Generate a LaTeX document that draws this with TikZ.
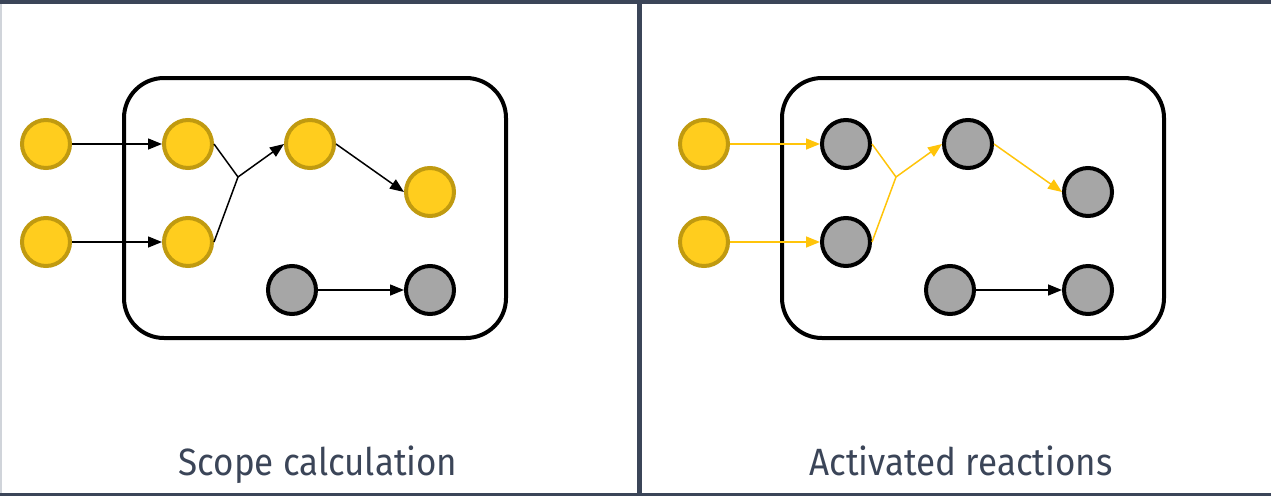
\documentclass[tikz,border=0pt]{standalone}
\usepackage{fontspec}
\setmainfont{Fira Sans}
\newfontfamily\capfont{Fira Sans}[FakeStretch=0.92]
\usetikzlibrary{arrows.meta}
\definecolor{slate}{RGB}{59,69,88}
\definecolor{edgegray}{RGB}{208,212,218}
\definecolor{gold}{RGB}{255,205,30}
\definecolor{goldrim}{RGB}{192,154,16}
\definecolor{flow}{RGB}{255,196,10}
\definecolor{inert}{RGB}{166,166,166}

\begin{document}
\begin{tikzpicture}[x=1pt,y=-1pt,
    met/.style={circle,draw=goldrim,fill=gold,line width=4pt,minimum size=48pt,inner sep=0pt},
    off/.style={circle,draw=black,fill=inert,line width=4pt,minimum size=48pt,inner sep=0pt},
    rxn/.style={line width=1.5pt,-{Triangle[length=14pt,width=11pt]}},
    leg/.style={line width=1.5pt},
    cell/.style={draw=black,line width=4pt,rounded corners=40pt},
    caption/.style={text=slate,anchor=base,inner sep=0pt,font=\capfont\fontsize{38}{44}\selectfont}]
    \useasboundingbox (0,0) rectangle (1271,496);
    % frame
    \fill[edgegray] (0,0) rectangle (1.5,496);
    \fill[slate] (0,0) rectangle (1271,3.5);
    \fill[slate] (0,492.5) rectangle (1271,496);
    \fill[slate] (637,0) rectangle (642,496);
    % scope calculation
    \draw[cell] (124,78) rectangle (506,338);
    \node (in1) at (46,144) [met] {};
    \node (in2) at (46,242) [met] {};
    \node (a1) at (188,144) [met] {};
    \node (a2) at (188,242) [met] {};
    \node (b) at (310,144) [met] {};
    \node (c) at (430,192) [met] {};
    \node (d) at (292,290) [off] {};
    \node (e) at (430,290) [off] {};
    \coordinate (j) at (238,177);
    \draw[rxn] (in1.east) -- (a1.west);
    \draw[rxn] (in2.east) -- (a2.west);
    \draw[leg] (a1.east) -- (j);
    \draw[leg] (a2.east) -- (j);
    \draw[rxn] (j) -- (b.west);
    \draw[rxn] (b.east) -- (c.west);
    \draw[rxn] (d.east) -- (e.west);
    \node (cap1) at (318,475) [caption] {Scope calculation};
    % activated reactions
    \draw[cell] (782,78) rectangle (1164,338);
    \node (in3) at (704,144) [met] {};
    \node (in4) at (704,242) [met] {};
    \node (a3) at (846,144) [off] {};
    \node (a4) at (846,242) [off] {};
    \node (b2) at (968,144) [off] {};
    \node (c2) at (1088,192) [off] {};
    \node (d2) at (950,290) [off] {};
    \node (e2) at (1088,290) [off] {};
    \coordinate (j2) at (896,177);
    \draw[rxn,flow] (in3.east) -- (a3.west);
    \draw[rxn,flow] (in4.east) -- (a4.west);
    \draw[leg,flow] (a3.east) -- (j2);
    \draw[leg,flow] (a4.east) -- (j2);
    \draw[rxn,flow] (j2) -- (b2.west);
    \draw[rxn,flow] (b2.east) -- (c2.west);
    \draw[rxn] (d2.east) -- (e2.west);
    \node (cap2) at (961,475) [caption] {Activated reactions};
\end{tikzpicture}
\end{document}
